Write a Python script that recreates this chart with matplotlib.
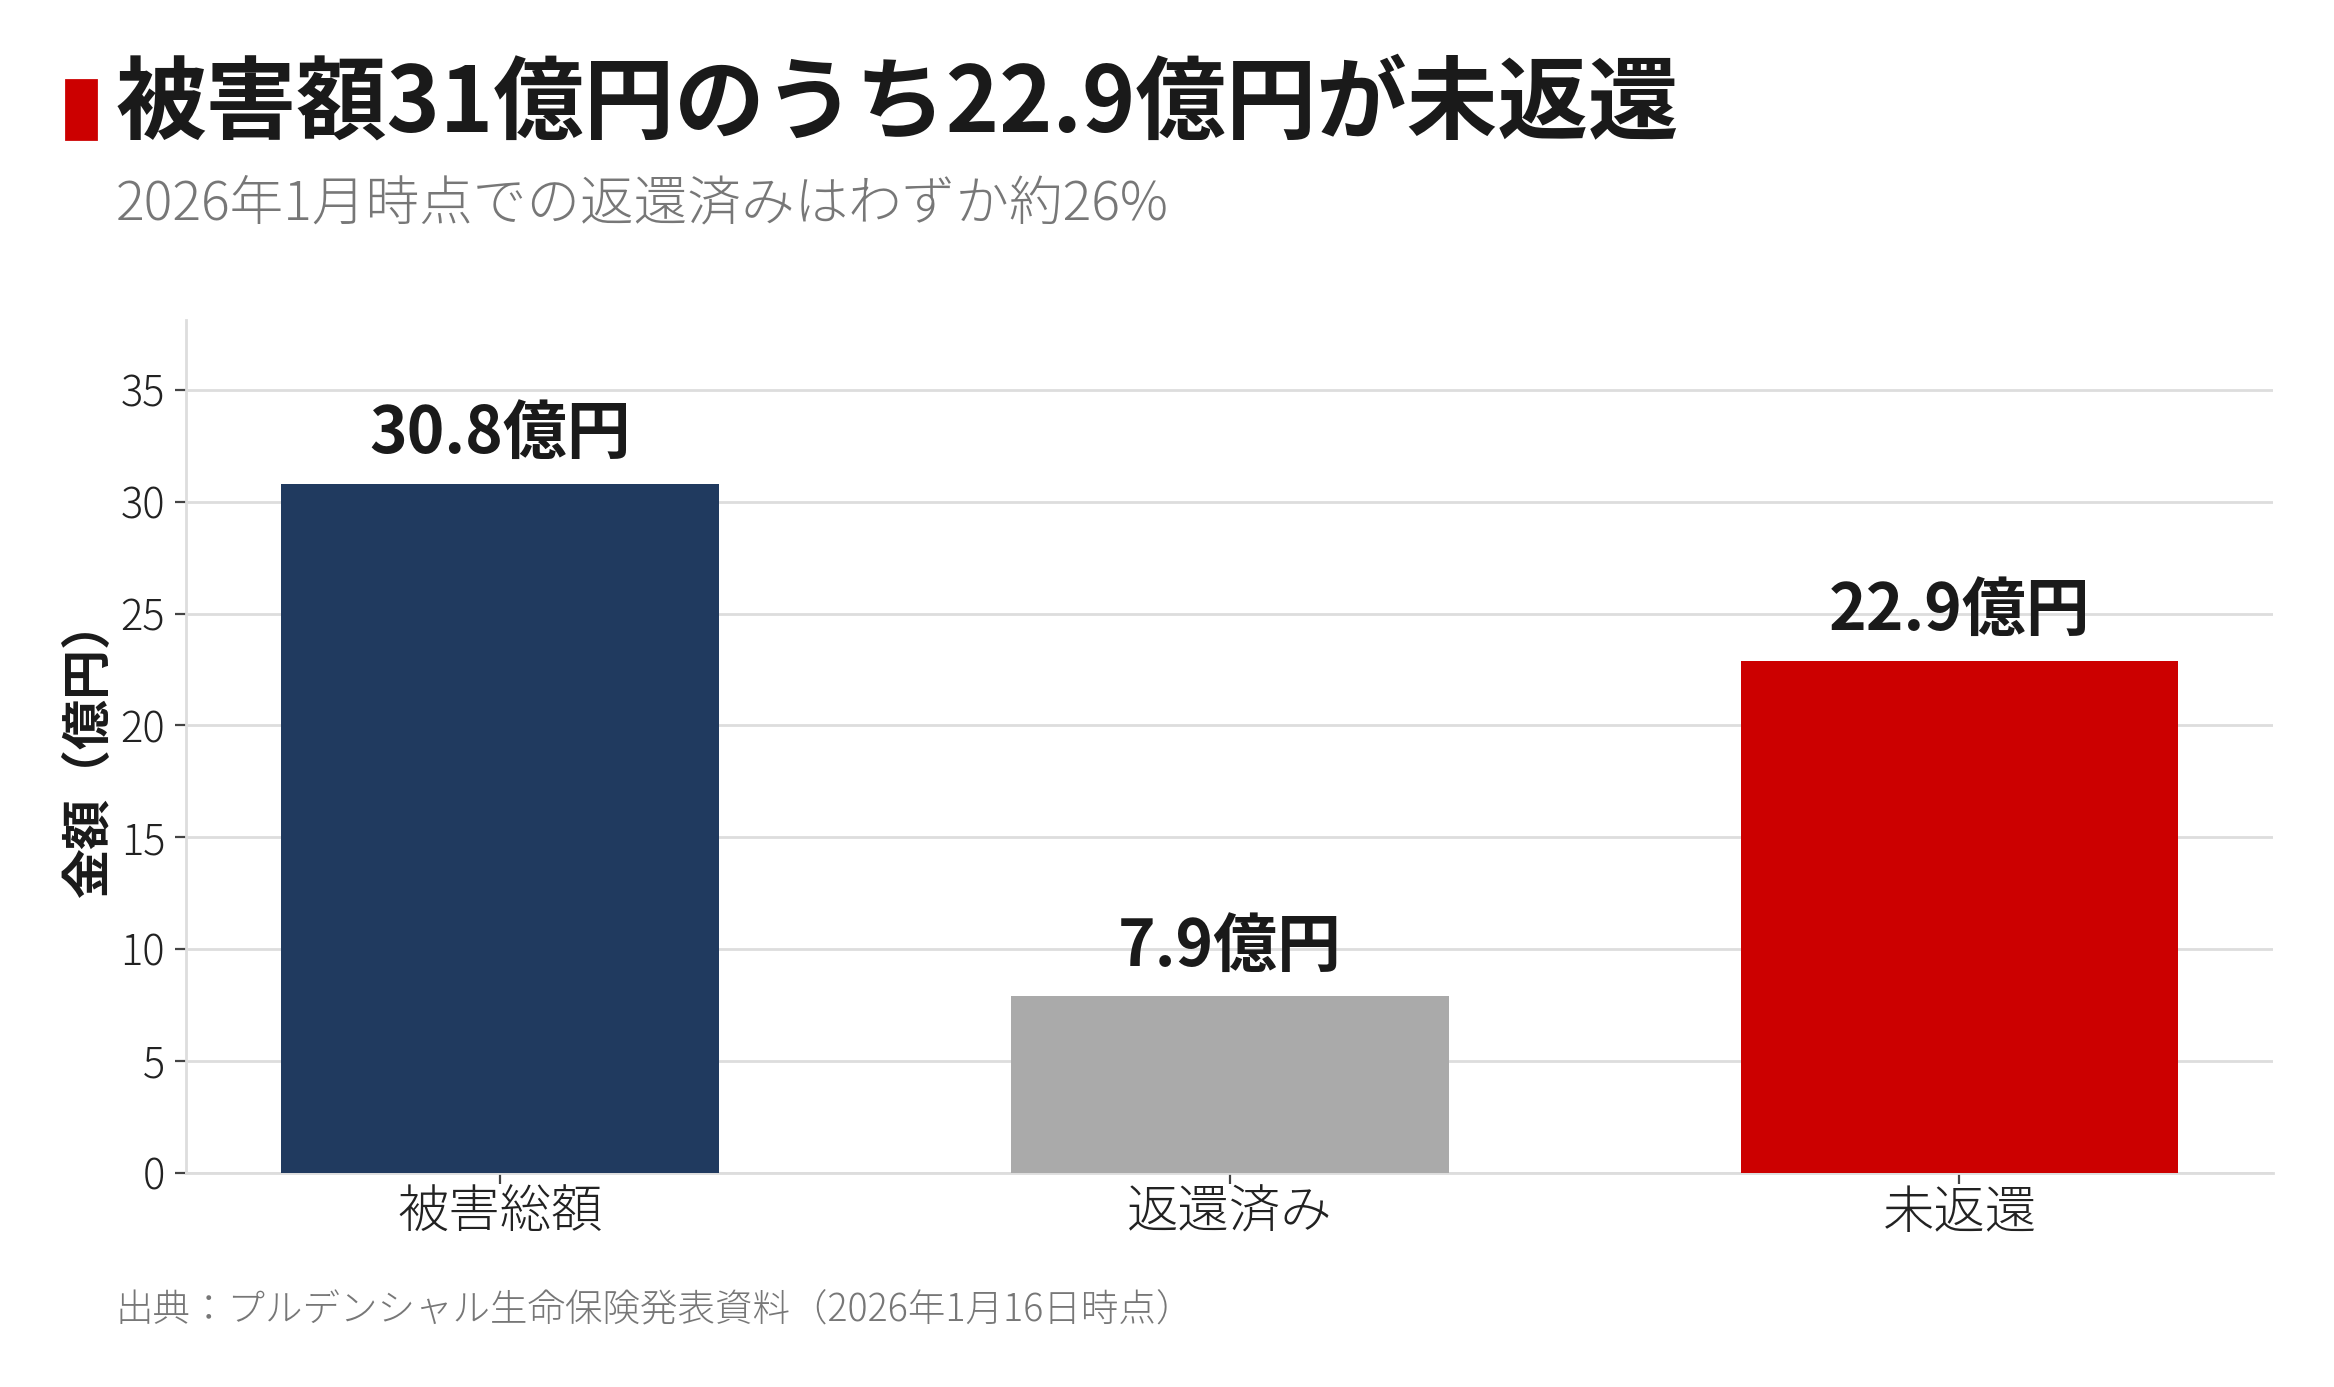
import matplotlib
matplotlib.use("Agg")
import matplotlib.pyplot as plt
from matplotlib.patches import Rectangle

plt.rcParams["font.family"] = ["Noto Sans CJK JP", "DejaVu Sans"]

# data
categories = ["被害総額", "返還済み", "未返還"]
values = [30.8, 7.9, 22.9]
bar_colors = ["#203a5f", "#aaaaaa", "#cc0000"]
yticks = [0, 5, 10, 15, 20, 25, 30, 35]

title = "被害額31億円のうち22.9億円が未返還"
subtitle = "2026年1月時点での返還済みはわずか約26%"
source = "出典：プルデンシャル生命保険発表資料（2026年1月16日時点）"
ylabel = "金額（億円）"

fig = plt.figure(figsize=(11.67, 6.935), dpi=200)
ax = fig.add_axes([0.0797, 0.1543, 0.8943, 0.6147])

x = range(len(categories))
bars = ax.bar(x, values, width=0.6, color=bar_colors, zorder=3)

for b, v in zip(bars, values):
    ax.annotate(f"{v}億円", (b.get_x() + b.get_width() / 2, v),
                xytext=(0, 6), textcoords="offset points",
                ha="center", va="bottom", fontsize=23, fontweight="bold",
                color="#1a1a1a")

ax.set_ylim(0, 38.1)
ax.set_yticks(yticks)
ax.set_xticks(list(x))
ax.set_xticklabels(categories, fontsize=18.5, color="#222222",
                   fontweight="light")
for lab in ax.get_yticklabels():
    lab.set_fontweight("light")
ax.tick_params(axis="y", labelsize=15, labelcolor="#222222", length=4,
               color="#444444", width=0.8)
ax.tick_params(axis="x", length=4, color="#444444", width=0.8, pad=1)
ax.set_ylabel(ylabel, fontsize=18, fontweight="bold", color="#1a1a1a",
              labelpad=2)

ax.grid(axis="y", color="#dddddd", linewidth=1, zorder=0)
ax.set_axisbelow(True)
for s in ["top", "right"]:
    ax.spines[s].set_visible(False)
for s in ["left", "bottom"]:
    ax.spines[s].set_color("#dddddd")
    ax.spines[s].set_linewidth(1)

# title block
fig.patches.append(Rectangle((0.0283, 0.8998), 0.0129, 0.0425,
                             transform=fig.transFigure, color="#cc0000"))
fig.text(0.0497, 0.905, title, fontsize=32.6, fontweight="bold",
         color="#1a1a1a", va="baseline")
fig.text(0.0497, 0.842, subtitle, fontsize=19.3, color="#777777",
         va="baseline", fontweight="light")
fig.text(0.0497, 0.047, source, fontsize=13.5, color="#777777",
         va="baseline", fontweight="light")

plt.savefig("out.png", dpi=200)
